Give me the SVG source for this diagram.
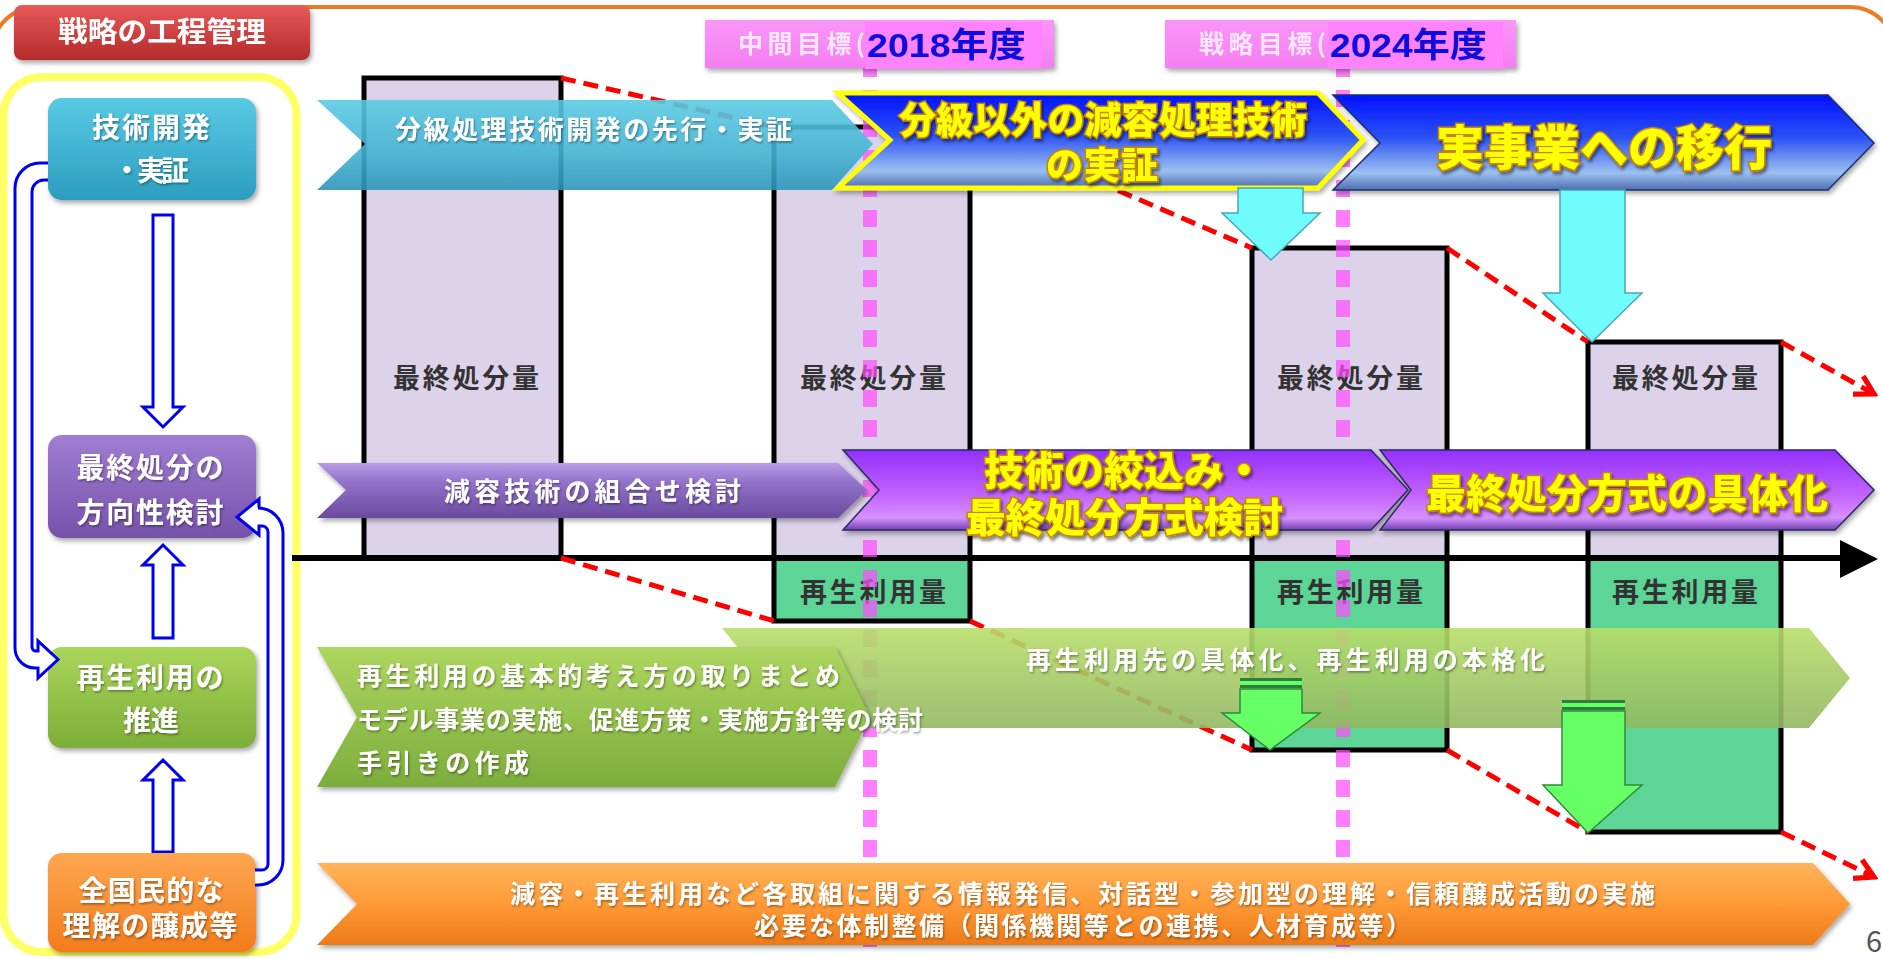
<svg xmlns="http://www.w3.org/2000/svg" width="1883" height="959" viewBox="0 0 1883 959">
<defs>
<style>
text{font-family:'Noto Sans CJK JP','Noto Sans CJK SC',sans-serif;}
.w{fill:#fff;font-weight:700;}
.wn{fill:#fff;font-weight:700;filter:url(#ts);}
.yl{fill:#FFFF00;stroke:#C98400;stroke-width:3;paint-order:stroke fill;font-weight:900;filter:url(#ys);}
.dk{fill:#333;font-weight:700;font-size:27px;text-anchor:middle;}
.lav{fill:#DCD3EA;stroke:#000;stroke-width:5;}
.grn{fill:#5CD596;stroke:#000;stroke-width:5;}
.red{fill:none;stroke:#F00;stroke-width:5;stroke-dasharray:15 8;}
.pk{fill:none;stroke:#FF4CFF;stroke-width:14;stroke-dasharray:17 13;opacity:0.72;}
.hol{fill:#fff;stroke:#0000EE;stroke-width:3;}
</style>
<filter id="sh" x="-10%" y="-10%" width="125%" height="140%"><feDropShadow dx="2" dy="3" stdDeviation="2.5" flood-color="#000" flood-opacity="0.35"/></filter>
<filter id="ts" x="-5%" y="-20%" width="115%" height="150%"><feDropShadow dx="1" dy="1.5" stdDeviation="1" flood-color="#000" flood-opacity="0.4"/></filter>
<filter id="ys" x="-5%" y="-20%" width="115%" height="150%"><feDropShadow dx="2" dy="3" stdDeviation="1.5" flood-color="#000" flood-opacity="0.45"/></filter>
<linearGradient id="gTitle" x1="0" y1="0" x2="0" y2="1"><stop offset="0" stop-color="#E85A5A"/><stop offset="1" stop-color="#B42A2A"/></linearGradient>
<linearGradient id="gNc" x1="0" y1="0" x2="0" y2="1"><stop offset="0" stop-color="#58CAE4"/><stop offset="1" stop-color="#2C9DC0"/></linearGradient>
<linearGradient id="gNp" x1="0" y1="0" x2="0" y2="1"><stop offset="0" stop-color="#A07ED2"/><stop offset="1" stop-color="#7652AA"/></linearGradient>
<linearGradient id="gNg" x1="0" y1="0" x2="0" y2="1"><stop offset="0" stop-color="#AAD65A"/><stop offset="1" stop-color="#7DAE38"/></linearGradient>
<linearGradient id="gNo" x1="0" y1="0" x2="0" y2="1"><stop offset="0" stop-color="#FFA650"/><stop offset="1" stop-color="#F27C1C"/></linearGradient>
<linearGradient id="gc" x1="0" y1="0" x2="0" y2="1"><stop offset="0" stop-color="#5ACBE3"/><stop offset="0.6" stop-color="#42B2D2"/><stop offset="1" stop-color="#2E94B8"/></linearGradient>
<linearGradient id="gb" x1="0" y1="0" x2="0" y2="1"><stop offset="0" stop-color="#0010FF"/><stop offset="0.45" stop-color="#2C52F4"/><stop offset="0.82" stop-color="#9CC0F0"/><stop offset="1" stop-color="#4E6EB0"/></linearGradient>
<linearGradient id="gp1" x1="0" y1="0" x2="0" y2="1"><stop offset="0" stop-color="#B89AE6"/><stop offset="0.35" stop-color="#9272CA"/><stop offset="1" stop-color="#6A4A9E"/></linearGradient>
<linearGradient id="gp2" x1="0" y1="0" x2="0" y2="1"><stop offset="0" stop-color="#9230FF"/><stop offset="0.55" stop-color="#C262FF"/><stop offset="0.85" stop-color="#D690FF"/><stop offset="1" stop-color="#7040B0"/></linearGradient>
<linearGradient id="gg1" x1="0" y1="0" x2="0" y2="1"><stop offset="0" stop-color="#AED660"/><stop offset="1" stop-color="#7CAD3C"/></linearGradient>
<linearGradient id="gg2" x1="0" y1="0" x2="0" y2="1"><stop offset="0" stop-color="#B8DE6A"/><stop offset="1" stop-color="#92B862"/></linearGradient>
<linearGradient id="go" x1="0" y1="0" x2="0" y2="1"><stop offset="0" stop-color="#FFB45A"/><stop offset="0.5" stop-color="#FF9A36"/><stop offset="1" stop-color="#EC7A18"/></linearGradient>
<linearGradient id="gpk" x1="0" y1="0" x2="0" y2="1"><stop offset="0" stop-color="#FA96F8"/><stop offset="1" stop-color="#F57EF2"/></linearGradient>
<marker id="ra" viewBox="0 0 20 20" refX="17" refY="10" markerWidth="26" markerHeight="26" markerUnits="userSpaceOnUse" orient="auto"><path d="M3,2 L17,10 L3,18" fill="none" stroke="#F00" stroke-width="4" stroke-dasharray="none"/></marker>
</defs>
<rect width="1883" height="959" fill="#fff"/>
<rect x="-8" y="7" width="1903" height="1000" rx="45" fill="none" stroke="#F07A22" stroke-width="4"/>

<g id="title" filter="url(#sh)">
<rect x="14" y="5" width="296" height="55" rx="8" fill="url(#gTitle)"/>
<text class="w" x="58" y="42" font-size="28" textLength="208" lengthAdjust="spacingAndGlyphs">戦略の工程管理</text>
</g>

<rect id="panel" x="3.5" y="77" width="293" height="875" rx="38" fill="none" stroke="#FFFF66" stroke-width="8"/>

<g id="bars">
<rect x="364" y="78" width="197" height="480" class="lav"/>
<rect x="774" y="127" width="196" height="431" class="lav"/>
<rect x="1252" y="248" width="195" height="310" class="lav"/>
<rect x="1588" y="342" width="193" height="216" class="lav"/>
<rect x="774" y="558" width="196" height="63" class="grn"/>
<rect x="1252" y="558" width="195" height="192" class="grn"/>
<rect x="1588" y="558" width="193" height="274" class="grn"/>
<text class="dk" x="466" y="388" textLength="146">最終処分量</text>
<text class="dk" x="873" y="388" textLength="146">最終処分量</text>
<text class="dk" x="1350" y="388" textLength="146">最終処分量</text>
<text class="dk" x="1685" y="388" textLength="146">最終処分量</text>
<text class="dk" x="873" y="602" textLength="146">再生利用量</text>
<text class="dk" x="1350" y="602" textLength="146">再生利用量</text>
<text class="dk" x="1685" y="602" textLength="146">再生利用量</text>
</g>

<g id="axis">
<line x1="292" y1="558" x2="1846" y2="558" stroke="#000" stroke-width="6"/>
<polygon points="1840,540 1878,559 1840,578" fill="#000"/>
</g>

<g id="milestone-lines">
<line x1="870" y1="60" x2="870" y2="959" class="pk"/>
<line x1="1343" y1="60" x2="1343" y2="959" class="pk"/>
</g>

<g id="connectors">
<line x1="561" y1="78" x2="774" y2="127" class="red"/>
<line x1="970" y1="127" x2="1252" y2="248" class="red"/>
<line x1="1447" y1="248" x2="1588" y2="342" class="red"/>
<line x1="1781" y1="342" x2="1874" y2="394" class="red" marker-end="url(#ra)"/>
<line x1="561" y1="558" x2="774" y2="621" class="red"/>
<line x1="970" y1="621" x2="1252" y2="750" class="red"/>
<line x1="1447" y1="750" x2="1588" y2="832" class="red"/>
<line x1="1781" y1="832" x2="1874" y2="877" class="red" marker-end="url(#ra)"/>
</g>

<g id="label-2018" filter="url(#sh)">
<rect x="705" y="20" width="349" height="48" fill="url(#gpk)"/>
<rect x="865" y="22" width="177" height="47" fill="#FF82FF"/>
<text x="738" y="53" font-size="25" font-weight="700" fill="#FFE6FF" textLength="127">中間目標(</text>
<text x="867" y="57" font-size="34" font-weight="700" fill="#0A10E0" textLength="159" lengthAdjust="spacingAndGlyphs" style="font-family:'Liberation Sans','Noto Sans CJK JP',sans-serif">2018年度</text>
</g>
<g id="label-2024" filter="url(#sh)">
<rect x="1165" y="20" width="351" height="48" fill="url(#gpk)"/>
<rect x="1328" y="22" width="175" height="47" fill="#FF82FF"/>
<text x="1199" y="53" font-size="25" font-weight="700" fill="#FFE6FF" textLength="127">戦略目標(</text>
<text x="1330" y="57" font-size="34" font-weight="700" fill="#0A10E0" textLength="157" lengthAdjust="spacingAndGlyphs" style="font-family:'Liberation Sans','Noto Sans CJK JP',sans-serif">2024年度</text>
</g>

<g id="row-tech">
<polygon points="317,100 832,100 873,144 832,190 317,190 365,144" fill="url(#gc)" opacity="0.9"/>
<text class="wn" x="395" y="139" font-size="26" textLength="397">分級処理技術開発の先行・実証</text>
<g filter="url(#sh)">
<polygon points="1333,95 1828,95 1874,143 1828,190 1333,190 1380,143" fill="url(#gb)" stroke="#1A3070" stroke-width="1.5"/>
<polygon points="838,93 1318,93 1363,140 1318,188 838,188 890,140" fill="url(#gb)" stroke="#FFFF00" stroke-width="5" stroke-linejoin="miter"/>
</g>
<text class="yl" x="1103" y="134" font-size="37" text-anchor="middle" textLength="408">分級以外の減容処理技術</text>
<text class="yl" x="1102" y="179" font-size="37" text-anchor="middle" textLength="112">の実証</text>
<text class="yl" x="1604" y="165" font-size="48" text-anchor="middle" textLength="336">実事業への移行</text>
<path d="M1238,188 H1303 V213 H1320 L1271,260 L1222,213 H1238 Z" fill="#70FCFC" stroke="#48A8B8" stroke-width="1.5"/>
<path d="M1560,190 H1625 V293 H1642 L1592,342 L1543,293 H1560 Z" fill="#70FCFC" stroke="#48A8B8" stroke-width="1.5"/>
</g>

<g id="row-disposal">
<polygon points="317,463 838,463 867,490 838,518 317,518 346,490" fill="url(#gp1)" filter="url(#sh)"/>
<text class="wn" x="444" y="501" font-size="26" textLength="297">減容技術の組合せ検討</text>
<g filter="url(#sh)">
<polygon points="1380,450 1835,450 1874,490 1835,530 1380,530 1411,490" fill="url(#gp2)" stroke="#2A2A60" stroke-width="1.5"/>
<polygon points="843,450 1371,450 1408,490 1371,530 843,530 879,490" fill="url(#gp2)" stroke="#2A2A60" stroke-width="1.5"/>
</g>
<text class="yl" x="984" y="485" font-size="40">技術の絞込み・</text>
<text class="yl" x="966" y="532" font-size="40" textLength="317">最終処分方式検討</text>
<text class="yl" x="1426" y="508" font-size="40" textLength="402">最終処分方式の具体化</text>
</g>

<g id="row-recycle">
<polygon points="722,628 1809,628 1850,678 1809,728 722,728 762,678" fill="url(#gg2)" opacity="0.9"/>
<text class="wn" x="1026" y="669" font-size="25" textLength="519">再生利用先の具体化、再生利用の本格化</text>
<rect x="1240" y="678" width="62" height="3" fill="#2E7F3E"/>
<rect x="1240" y="681" width="62" height="4" fill="#66FF66"/>
<rect x="1240" y="685" width="62" height="3" fill="#2E7F3E"/>
<path d="M1240,689 H1302 V713 H1320 L1270,750 L1222,713 H1240 Z" fill="#66FF66" stroke="#2E8B3E" stroke-width="1.5"/>
<rect x="1562" y="700" width="63" height="3" fill="#2E7F3E"/>
<rect x="1562" y="703" width="63" height="4" fill="#66FF66"/>
<rect x="1562" y="707" width="63" height="3" fill="#2E7F3E"/>
<path d="M1562,711 H1625 V785 H1642 L1588,833 L1543,785 H1562 Z" fill="#66FF66" stroke="#2E8B3E" stroke-width="1.5"/>
<polygon points="317,647 835,647 870,717 835,787 317,787 357,717" fill="url(#gg1)" filter="url(#sh)"/>
<text class="wn" x="357" y="685" font-size="25" textLength="483">再生利用の基本的考え方の取りまとめ</text>
<text class="wn" x="357" y="729" font-size="25" textLength="566">モデル事業の実施、促進方策・実施方針等の検討</text>
<text class="wn" x="357" y="772" font-size="25" textLength="172">手引きの作成</text>
</g>

<g id="row-public">
<polygon points="317,863 1813,863 1850,904 1813,945 317,945 357,904" fill="url(#go)" filter="url(#sh)"/>
<text class="wn" x="510" y="903" font-size="25" textLength="1145">減容・再生利用など各取組に関する情報発信、対話型・参加型の理解・信頼醸成活動の実施</text>
<text class="wn" x="754" y="935" font-size="25" textLength="657">必要な体制整備（関係機関等との連携、人材育成等）</text>
</g>

<g id="flow-arrows">
<path class="hol" d="M153,215 H173 V407 H183 L163,427 L143,407 H153 Z"/>
<path class="hol" d="M153,638 V565 H143 L163,545 L183,565 H173 V638 Z"/>
<path class="hol" d="M153,852 V780 H143 L163,760 L183,780 H173 V852 Z"/>
</g>

<g id="node-tech" filter="url(#sh)">
<rect x="48" y="98" width="208" height="102" rx="14" fill="url(#gNc)"/>
<text class="wn" x="151" y="138" font-size="28" text-anchor="middle" textLength="118">技術開発</text>
<text class="wn" x="151" y="181" font-size="28" text-anchor="middle" textLength="76">・実証</text>
</g>
<g id="node-disposal" filter="url(#sh)">
<rect x="48" y="435" width="208" height="103" rx="14" fill="url(#gNp)"/>
<text class="wn" x="150" y="478" font-size="28" text-anchor="middle" textLength="147">最終処分の</text>
<text class="wn" x="150" y="523" font-size="28" text-anchor="middle" textLength="147">方向性検討</text>
</g>
<g id="node-recycle" filter="url(#sh)">
<rect x="48" y="647" width="208" height="101" rx="14" fill="url(#gNg)"/>
<text class="wn" x="150" y="688" font-size="28" text-anchor="middle" textLength="147">再生利用の</text>
<text class="wn" x="151" y="731" font-size="28" text-anchor="middle" textLength="56">推進</text>
</g>
<g id="node-public" filter="url(#sh)">
<rect x="48" y="853" width="208" height="99" rx="14" fill="url(#gNo)"/>
<text class="wn" x="151" y="901" font-size="28" text-anchor="middle" textLength="145">全国民的な</text>
<text class="wn" x="150" y="936" font-size="28" text-anchor="middle" textLength="175">理解の醸成等</text>
</g>

<g id="loop-arrows">
<path class="hol" d="M48,163 H40 A25,25 0 0 0 15,188 V648 A20,20 0 0 0 35,668 H38 V678 L58,659.5 L38,641 V651 H36 A4,4 0 0 1 32,647 V192 A12,12 0 0 1 44,180 H48"/>
<path class="hol" d="M255,870 H262 A6,6 0 0 0 268,864 V532 A6,6 0 0 0 262,526 H259 V535 L237,517 L259,499 V508 H258 A25,25 0 0 1 283,533 V860 A25,25 0 0 1 258,885 H255"/>
</g>

<text x="1866" y="952" font-size="29" fill="#555" style="font-family:'Noto Sans CJK JP',sans-serif">6</text>
</svg>
